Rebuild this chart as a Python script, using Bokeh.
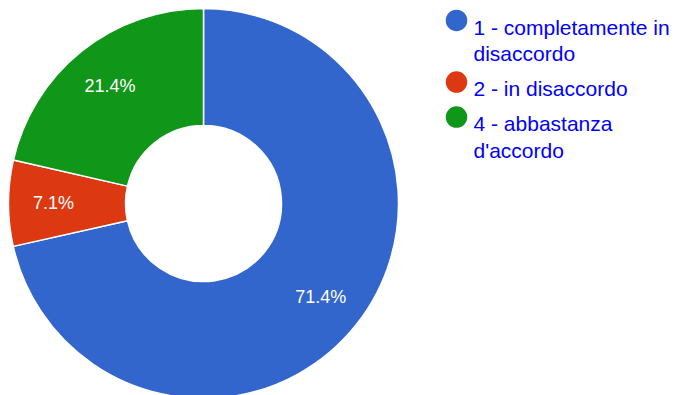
import numpy as np
from bokeh.plotting import figure
from bokeh.models import Range1d, ColumnDataSource
from bokeh.embed import file_html
from bokeh.resources import INLINE
from bokeh.core.properties import value

# ---- data ----
categories = ["1 - completamente in\ndisaccordo", "2 - in disaccordo", "4 - abbastanza\nd'accordo"]
percents = [71.4, 7.1, 21.4]
colors = ["#3366cc", "#dc3912", "#109618"]

# ---- layout constants (pixels) ----
W, H = 678, 395
CX, CY = 203, H - 203
R_OUT, R_IN = 195, 78
R_LABEL = 150
FONT = value("Liberation Sans")

p = figure(width=W, height=H, x_range=Range1d(0, W), y_range=Range1d(0, H),
           output_backend="svg", toolbar_location=None, min_border=0,
           x_axis_location=None, y_axis_location=None)
p.grid.visible = False
p.outline_line_color = None
p.background_fill_color = "white"
p.border_fill_color = "white"

vals = np.array(percents, dtype=float)
frac = vals / vals.sum()
cum = np.concatenate([[0.0], np.cumsum(frac)])
starts = np.pi / 2 - 2 * np.pi * cum[:-1]
ends = np.pi / 2 - 2 * np.pi * cum[1:]
mids = (starts + ends) / 2

src = ColumnDataSource(dict(start=starts, end=ends, color=colors,
                            lx=CX + R_LABEL * np.cos(mids), ly=CY + R_LABEL * np.sin(mids),
                            lab=[f"{v:.1f}%" for v in percents]))

p.annular_wedge(x=CX, y=CY, inner_radius=R_IN, outer_radius=R_OUT,
                start_angle="start", end_angle="end", direction="clock",
                fill_color="color", line_color="white", line_width=1.5, source=src)

p.text(x="lx", y="ly", text="lab", source=src, text_color="white", text_font=FONT,
       text_font_size="18px", text_align="center", text_baseline="middle")

# ---- legend (manual) ----
LINE_H, GAP = 26.7, 8.3
top_baseline = H - 26.7  # first baseline (y up)
tx, ty, tt = [], [], []
mx, my, mc = [], [], []
b = top_baseline
for cat, col in zip(categories, colors):
    lines = cat.split("\n")
    mx.append(456)
    my.append(b + 6.8)
    mc.append(col)
    for ln in lines:
        tx.append(473)
        ty.append(b)
        tt.append(ln)
        b -= LINE_H
    b -= GAP

p.scatter(x=mx, y=my, size=21.5, fill_color=mc, line_color=None)
p.text(x=tx, y=ty, text=tt, text_color="#0000ff", text_font=FONT,
       text_font_size="21px", text_align="left", text_baseline="alphabetic")

open("out.html", "w").write(file_html(p, INLINE))
